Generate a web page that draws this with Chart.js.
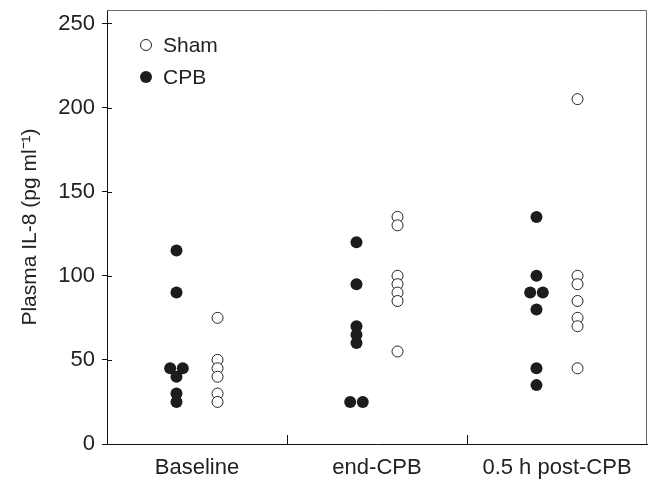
<!DOCTYPE html>
<html>
<head>
    <title>Plasma IL-8</title>
    <script src="https://cdn.jsdelivr.net/npm/chart.js"></script>
    <style>
        body {
            margin: 0;
            background-color: #ffffff;
        }
        #wrap {
            width: 650px;
            height: 482px;
        }
    </style>
</head>
<body>
    <div id="wrap">
        <canvas id="il8Chart"></canvas>
    </div>
    <script>
        // values (pg/ml)
        var timepoints = ["Baseline", "end-CPB", "0.5 h post-CPB"];
        var cpbBaseline = [115, 90, 45, 45, 40, 30, 25];
        var cpbEnd = [120, 95, 70, 65, 60, 25, 25];
        var cpbPost = [135, 100, 90, 90, 80, 45, 35];
        var shamBaseline = [75, 50, 45, 40, 30, 25];
        var shamEnd = [135, 130, 100, 95, 90, 85, 55];
        var shamPost = [205, 100, 95, 85, 75, 70, 45];
        var yTicks = [0, 50, 100, 150, 200, 250];

        var fontFamily = "'Liberation Sans', Arial, sans-serif";

        // put each group left/right of the timepoint centre; tied values sit side by side
        function toPoints(groups, side) {
            var pts = [];
            groups.forEach(function (vals, i) {
                var seen = {};
                vals.forEach(function (v) {
                    var n = vals.filter(function (w) { return w === v; }).length;
                    seen[v] = (seen[v] || 0) + 1;
                    var k = seen[v] - 1;
                    pts.push({ x: i + 0.5 + side * 0.114 + (k - (n - 1) / 2) * 0.07, y: v });
                });
            });
            return pts;
        }

        var frame = {
            id: "frame",
            afterDraw: function (chart) {
                var ctx = chart.ctx;
                var a = chart.chartArea;
                var xs = chart.scales.x;
                var ys = chart.scales.y;
                ctx.save();
                // top and right edges of the box
                ctx.strokeStyle = "#6a6a6a";
                ctx.lineWidth = 1;
                ctx.beginPath();
                ctx.moveTo(a.left, a.top + 0.5);
                ctx.lineTo(a.right - 0.5, a.top + 0.5);
                ctx.lineTo(a.right - 0.5, a.bottom);
                ctx.stroke();
                // inward tick marks
                ctx.strokeStyle = "#111";
                ctx.beginPath();
                [1, 2].forEach(function (v) {
                    var px = Math.round(xs.getPixelForValue(v)) + 0.5;
                    ctx.moveTo(px, a.bottom);
                    ctx.lineTo(px, a.bottom - 9);
                });
                yTicks.forEach(function (v) {
                    var py = Math.round(ys.getPixelForValue(v)) + 0.5;
                    ctx.moveTo(a.left, py);
                    ctx.lineTo(a.left + 5, py);
                });
                ctx.stroke();
                // legend in the top-left corner of the plot
                ctx.font = "21px " + fontFamily;
                ctx.textBaseline = "middle";
                ctx.textAlign = "left";
                chart.data.datasets.forEach(function (ds, i) {
                    var cx = a.left + 39;
                    var cy = a.top + 35 + i * 32;
                    ctx.beginPath();
                    ctx.arc(cx, cy, ds.pointRadius, 0, Math.PI * 2);
                    ctx.fillStyle = ds.backgroundColor;
                    ctx.fill();
                    if (ds.borderWidth > 0) {
                        ctx.lineWidth = ds.borderWidth;
                        ctx.strokeStyle = ds.borderColor;
                        ctx.stroke();
                    }
                    ctx.fillStyle = "#222";
                    ctx.fillText(ds.label, cx + 17, cy + 1);
                });
                ctx.restore();
            }
        };

        var ctx = document.getElementById("il8Chart").getContext("2d");
        var il8Chart = new Chart(ctx, {
            type: "scatter",
            data: {
                datasets: [{
                    label: "Sham",
                    data: toPoints([shamBaseline, shamEnd, shamPost], 1),
                    backgroundColor: "#ffffff",
                    borderColor: "#222222",
                    borderWidth: 1,
                    pointRadius: 5.5,
                    pointHoverRadius: 5.5,
                }, {
                    label: "CPB",
                    data: toPoints([cpbBaseline, cpbEnd, cpbPost], -1),
                    backgroundColor: "#1c1c1c",
                    borderColor: "#1c1c1c",
                    borderWidth: 0,
                    pointRadius: 6,
                    pointHoverRadius: 6,
                }]
            },
            options: {
                responsive: true,
                maintainAspectRatio: false,
                animation: false,
                layout: {
                    autoPadding: false,
                    padding: { top: 10, right: 3, left: 0, bottom: 0 }
                },
                plugins: {
                    legend: { display: false },
                    tooltip: { enabled: false }
                },
                scales: {
                    x: {
                        type: "linear",
                        min: 0,
                        max: 3,
                        grid: { display: false, drawTicks: false },
                        border: { color: "#111", width: 1 },
                        afterBuildTicks: function (scale) {
                            scale.ticks = timepoints.map(function (t, i) { return { value: i + 0.5 }; });
                        },
                        afterFit: function (scale) {
                            scale.height = 38;
                            scale.paddingLeft = 0;
                            scale.paddingRight = 0;
                        },
                        ticks: {
                            padding: 11,
                            color: "#222",
                            font: { family: fontFamily, size: 22 },
                            maxRotation: 0,
                            callback: function (v) { return timepoints[Math.round(v - 0.5)]; }
                        }
                    },
                    y: {
                        min: 0,
                        max: 258,
                        grid: { drawOnChartArea: false, tickLength: 5, color: "#111" },
                        border: { color: "#111", width: 1 },
                        afterFit: function (scale) {
                            scale.width = 107;
                            scale.paddingTop = 0;
                            scale.paddingBottom = 0;
                        },
                        ticks: {
                            stepSize: 50,
                            includeBounds: false,
                            padding: 7,
                            color: "#222",
                            font: { family: fontFamily, size: 22 }
                        },
                        title: {
                            display: true,
                            text: "Plasma IL-8 (pg ml\u207B\u00B9)",
                            color: "#222",
                            padding: { top: 18, bottom: 0 },
                            font: { family: fontFamily, size: 21 }
                        }
                    }
                }
            },
            plugins: [frame]
        });
    </script>
</body>
</html>
